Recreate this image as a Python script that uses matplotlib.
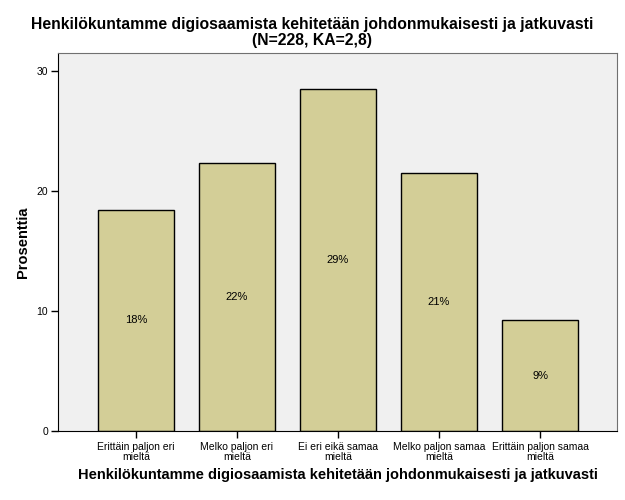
import matplotlib
matplotlib.use("Agg")
import matplotlib.pyplot as plt

categories = ["Erittäin paljon eri\nmieltä", "Melko paljon eri\nmieltä", "Ei eri eikä samaa\nmieltä",
              "Melko paljon samaa\nmieltä", "Erittäin paljon samaa\nmieltä"]
percent = [18.42, 22.37, 28.51, 21.49, 9.21]
labels = ["18%", "22%", "29%", "21%", "9%"]
yticks = [0, 10, 20, 30]

plt.rcParams['font.family'] = ['Liberation Sans', 'DejaVu Sans']

fig = plt.figure(figsize=(6.25, 5), dpi=100)
ax = fig.add_axes([58/625, 1-431/500, 559/625, 378/500])
ax.set_facecolor('#F0F0F0')
x = list(range(len(categories)))
bars = ax.bar(x, percent, width=0.75, color='#D3CE97', edgecolor='black', linewidth=1)
for xi, v, l in zip(x, percent, labels):
    ax.text(xi, v/2, l, ha='center', va='center', fontsize=8)
ax.set_xlim(-0.772, 4.762)
ax.set_ylim(0, 31.5)
ax.set_yticks(yticks)
ax.set_yticklabels([str(t) for t in yticks], fontsize=7.5)
ax.set_xticks(x)
ax.set_xticklabels(categories, fontsize=7.5, linespacing=1.0)
ax.tick_params(axis='both', length=5, width=1, color='black', pad=2)
ax.tick_params(axis='x', pad=3)
for s in ['top', 'right']:
    ax.spines[s].set_color('#707070')
for s in ['left', 'bottom']:
    ax.spines[s].set_color('black')
ax.set_ylabel('Prosenttia', fontsize=10.5, fontweight='bold', labelpad=5)
ax.set_xlabel('Henkilökuntamme digiosaamista kehitetään johdonmukaisesti ja jatkuvasti', fontsize=10.5, fontweight='bold', labelpad=4)
fig.text(0.5, 0.935, 'Henkilökuntamme digiosaamista kehitetään johdonmukaisesti ja jatkuvasti\n(N=228, KA=2,8)',
         ha='center', va='center', fontsize=11.3, fontweight='bold', linespacing=1.0)
fig.savefig('out.png', dpi=100)
